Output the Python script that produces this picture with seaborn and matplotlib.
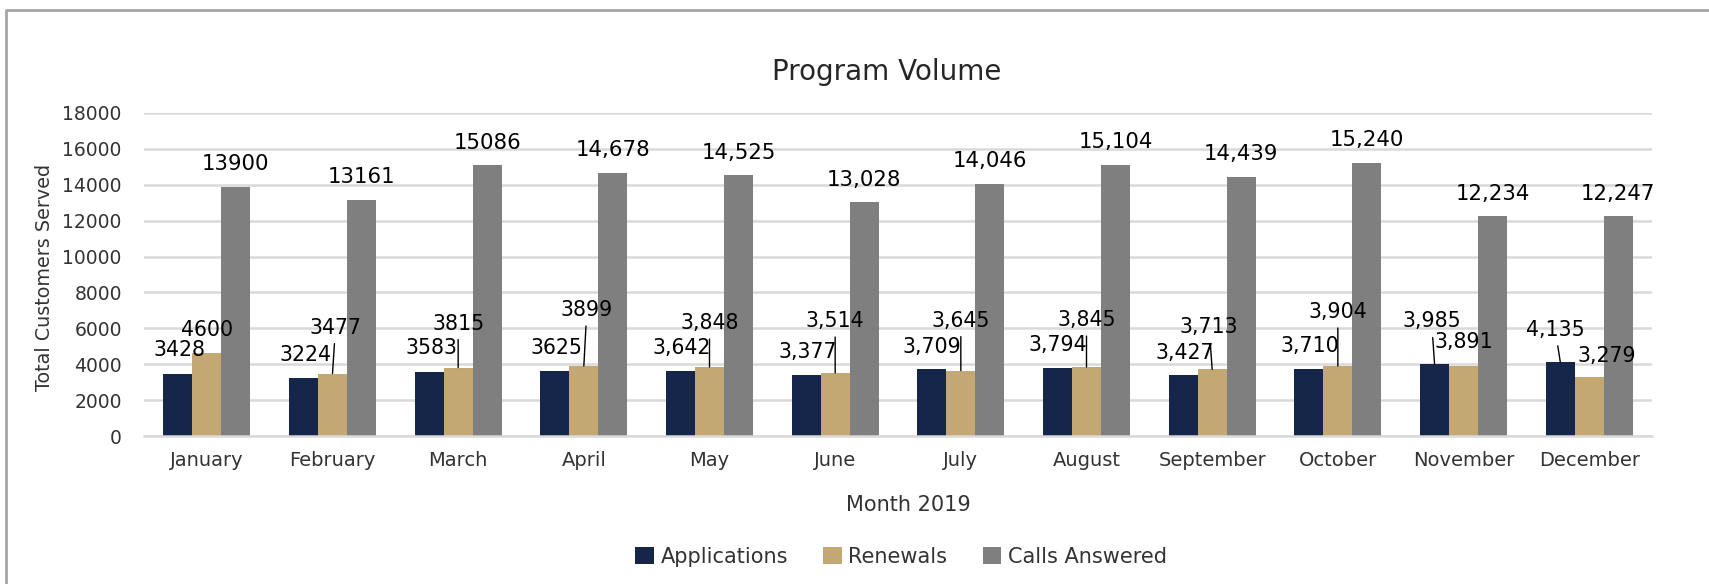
import matplotlib
matplotlib.use("Agg")
import matplotlib.pyplot as plt
from matplotlib.lines import Line2D
from matplotlib.patches import Patch
import seaborn as sns
import pandas as pd

# ---------------- data ----------------
months = ["January", "February", "March", "April", "May", "June", "July",
          "August", "September", "October", "November", "December"]
applications = [3428, 3224, 3583, 3625, 3642, 3377, 3709, 3794, 3427, 3710, 3985, 4135]
renewals = [4600, 3477, 3815, 3899, 3848, 3514, 3645, 3845, 3713, 3904, 3891, 3279]
calls_answered = [13900, 13161, 15086, 14678, 14525, 13028, 14046, 15104, 14439, 15240, 12234, 12247]
series_names = ["Applications", "Renewals", "Calls Answered"]
yticks = [0, 2000, 4000, 6000, 8000, 10000, 12000, 14000, 16000, 18000]

# label formatting: thousands separator starts at these month indices
comma_from_small = 4   # Applications / Renewals
comma_from_calls = 3   # Calls Answered

# label placement (offset in pixels from bar top centre) and leader-line flags
app_offsets = [(2, 24), (2, 23), (2, 24), (2, 23), (1, 23), (1, 23), (0, 22),
               (0, 23), (1, 22), (1, 23), (-3, 43), (-5, 32)]
app_leaders = [False] * 10 + [True, True]
ren_offsets = [(0, 23), (3, 46), (0, 44), (3, 56), (0, 44), (0, 52), (0, 50),
               (0, 47), (-3, 42), (0, 54), (0, 24), (18, 21)]
ren_leaders = [False] + [True] * 9 + [False, False]
call_offset = (0, 22.5)

colors = ["#15264A", "#C4A874", "#7F7F7F"]

# ---------------- figure ----------------
sns.set_theme(style="white")
plt.rcParams["font.family"] = ["DejaVu Sans"]

W, H = 1709, 584
fig = plt.figure(figsize=(W / 100, H / 100), dpi=100)
ax = fig.add_axes([144 / W, 1 - 436 / H, (1652 - 144) / W, (436 - 113) / H])

df = pd.DataFrame({
    "Month": months * 3,
    "Series": [s for s in series_names for _ in months],
    "Value": applications + renewals + calls_answered,
})

sns.barplot(data=df, x="Month", y="Value", hue="Series", order=months,
            hue_order=series_names, palette=colors, width=0.69, gap=0,
            linewidth=0, saturation=1, legend=False, ax=ax)

ax.set_ylim(0, 18000)
ax.set_yticks(yticks)
ax.set_xlim(-0.5, len(months) - 0.5)
ax.set_xlabel("")
ax.set_ylabel("")
ax.yaxis.grid(True, color="#D9D9D9", lw=1.8)
ax.xaxis.grid(False)
ax.set_axisbelow(True)
for side in ["left", "right", "top"]:
    ax.spines[side].set_visible(False)
ax.spines["bottom"].set_color("#D9D9D9")
ax.spines["bottom"].set_linewidth(1.8)
ax.tick_params(axis="x", length=0, pad=11, labelsize=14, colors="#333333")
ax.tick_params(axis="y", length=0, pad=16, labelsize=13.5, colors="#333333")


def fmt(v, comma):
    return f"{v:,}" if comma else f"{v}"


def label_bars(container, values, offsets, leaders, comma_from, fs):
    for i, (bar, v) in enumerate(zip(container.patches, values)):
        x = bar.get_x() + bar.get_width() / 2
        y = bar.get_height()
        dx, dy = offsets[i]
        arrow = None
        if leaders[i]:
            arrow = dict(arrowstyle="-", color="black", lw=1, shrinkA=2, shrinkB=0)
        ax.annotate(fmt(v, i >= comma_from), xy=(x, y), xytext=(dx, dy),
                    textcoords="offset pixels", ha="center", va="center",
                    fontsize=fs, color="black", arrowprops=arrow,
                    annotation_clip=False)


cont = ax.containers
label_bars(cont[0], applications, app_offsets, app_leaders, comma_from_small, 14.8)
label_bars(cont[1], renewals, ren_offsets, ren_leaders, comma_from_small, 14.8)
label_bars(cont[2], calls_answered, [call_offset] * len(months),
           [False] * len(months), comma_from_calls, 15.3)

# titles / axis labels
fig.text(887 / W, 1 - 72 / H, "Program Volume", ha="center", va="center",
         fontsize=20, color="#262626")
fig.text(908 / W, 1 - 505 / H, "Month 2019", ha="center", va="center",
         fontsize=15, color="#333333")
fig.text(45 / W, 1 - 277 / H, "Total Customers Served", ha="center", va="center",
         rotation=90, fontsize=13.8, color="#333333")

# legend
handles = [Patch(facecolor=c, edgecolor="none") for c in colors]
fig.legend(handles, series_names, loc="center", bbox_to_anchor=(901 / W, 1 - 557 / H),
           ncol=3, frameon=False, fontsize=15, handlelength=0.9, handleheight=0.85,
           handletextpad=0.3, columnspacing=1.7, labelcolor="#333333")

# outer chart border (left and top edges visible)
fig.add_artist(Line2D([6 / W, 6 / W, 1], [0, 1 - 10 / H, 1 - 10 / H],
                      transform=fig.transFigure, color="#A6A6A6", lw=2))

fig.savefig("out.png", dpi=100)
